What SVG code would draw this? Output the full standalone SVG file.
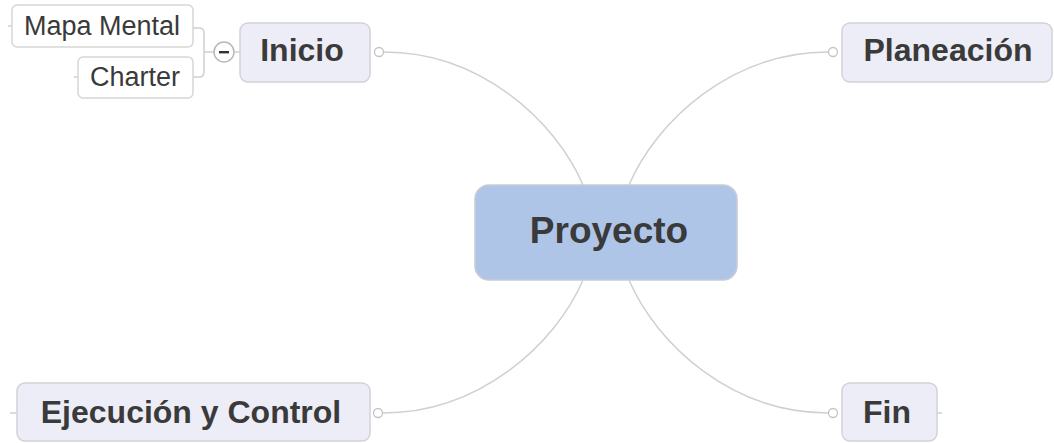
<svg xmlns="http://www.w3.org/2000/svg" width="1054" height="443" viewBox="0 0 1054 443">
<style>
.topic{fill:#ECEDF7;stroke:#D2D2D8;stroke-width:1.5}
.root{fill:#AEC5E7;stroke:#C8CCD4;stroke-width:1.5}
.sub{fill:#FFFFFF;stroke:#D6D6D6;stroke-width:1.5}
.t1{font-family:"Liberation Sans",Arial,sans-serif;font-weight:bold;font-size:32px;fill:#3A3A3A;text-anchor:middle}
.t0{font-family:"Liberation Sans",Arial,sans-serif;font-weight:bold;font-size:37px;fill:#3A3A3A;text-anchor:middle}
.t2{font-family:"Liberation Sans",Arial,sans-serif;font-size:27px;fill:#3A3A3A;text-anchor:middle}
.ln{fill:none;stroke:#D0D0D0;stroke-width:1.5}
.dot{fill:#FFFFFF;stroke:#C4C4C4;stroke-width:1.3}
</style>
<g id="connectors">
<path class="ln" d="M384,52 C480,52 555,120 583,185"/>
<path class="ln" d="M828,52 C732,52 657,120 629,185"/>
<path class="ln" d="M383,413 C479,413 555,345 583,280"/>
<path class="ln" d="M828,413 C732,413 657,345 629,280"/>
<path class="ln" d="M193,28 H199 Q204,28 204,33 V72 Q204,77 199,77 H193"/>
<path class="ln" d="M204,52 H214 M234,52 H240"/>
<path class="ln" d="M8,26 H12 M74,77 H78 M10,413 H17 M937,413 H942"/>
<circle class="dot" cx="379" cy="52" r="4.5"/>
<circle class="dot" cx="833" cy="52" r="4.5"/>
<circle class="dot" cx="378" cy="413" r="4.5"/>
<circle class="dot" cx="833" cy="413" r="4.5"/>
<g id="collapse">
<circle cx="224" cy="52" r="10" fill="#FFFFFF" stroke="#B8B8B8" stroke-width="1.5"/>
<rect x="219" y="51" width="10" height="2.4" fill="#333333"/>
</g>
</g>
<g id="root">
<rect class="root" x="475" y="185" width="262" height="95" rx="14"/>
<text class="t0" x="609" y="243">Proyecto</text>
</g>
<g id="inicio">
<rect class="topic" x="240" y="23" width="130" height="59" rx="8"/>
<text class="t1" x="302" y="61">Inicio</text>
</g>
<g id="planeacion">
<rect class="topic" x="842" y="23" width="210" height="59" rx="8"/>
<text class="t1" x="948" y="61">Planeación</text>
</g>
<g id="ejecucion">
<rect class="topic" x="17" y="383" width="353" height="58" rx="8"/>
<text class="t1" x="191" y="423">Ejecución y Control</text>
</g>
<g id="fin">
<rect class="topic" x="842" y="383" width="95" height="58" rx="8"/>
<text class="t1" x="887" y="423">Fin</text>
</g>
<g id="mapa">
<rect class="sub" x="12" y="5" width="181" height="42" rx="5"/>
<text class="t2" x="102" y="35">Mapa Mental</text>
</g>
<g id="charter">
<rect class="sub" x="78" y="57" width="115" height="41" rx="5"/>
<text class="t2" x="135" y="86">Charter</text>
</g>
</svg>
